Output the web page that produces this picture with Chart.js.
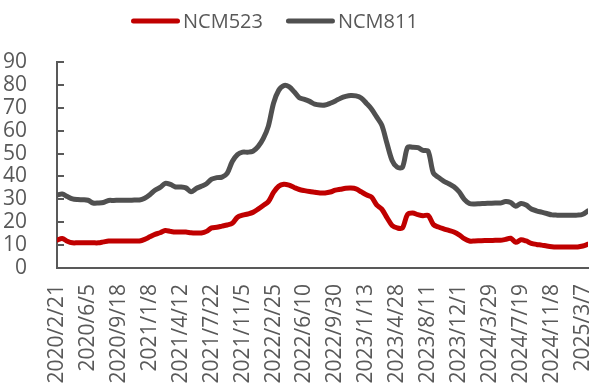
<!DOCTYPE html>
<html>
<head>
<meta charset="utf-8">
<style>
  html, body { margin: 0; padding: 0; background: #ffffff; }
  #wrap { width: 596px; height: 388px; }
</style>
<script src="https://cdn.jsdelivr.net/npm/chart.js@4"></script>
</head>
<body>
<div id="wrap"><canvas id="chart" width="596" height="388"></canvas></div>
<script>
// Date labels shown under the axis (one every sixth sample)
const tickLabels = [
  '2020/2/21', '2020/6/5', '2020/9/18', '2021/1/8', '2021/4/12', '2021/7/22',
  '2021/11/5', '2022/2/25', '2022/6/10', '2022/9/30', '2023/1/13', '2023/4/28',
  '2023/8/11', '2023/12/1', '2024/3/29', '2024/7/19', '2024/11/8', '2025/3/7'
];
const samplesPerLabel = 6;

const seriesNames = ['NCM523', 'NCM811'];

// NCM523 price series
const ncm523 = [
  12.2, 12.9, 11.7, 11.0, 11.0, 11.0, 11.0, 11.0, 11.0, 11.4,
  11.8, 11.8, 11.8, 11.8, 11.8, 11.8, 11.8, 12.5, 13.6, 14.7,
  15.4, 16.4, 16.0, 15.7, 15.7, 15.7, 15.4, 15.3, 15.3, 16.0,
  17.5, 17.8, 18.3, 18.8, 19.5, 22.2, 23.1, 23.6, 24.3, 25.7,
  27.3, 29.0, 33.0, 35.7, 36.6, 36.2, 35.2, 34.3, 33.8, 33.4,
  33.1, 32.8, 32.8, 33.2, 34.0, 34.4, 34.8, 34.9, 34.6, 33.3,
  32.0, 31.0, 27.6, 25.7, 22.0, 18.6, 17.5, 17.5, 23.4, 24.0,
  23.3, 22.8, 23.0, 19.0, 17.9, 17.1, 16.4, 15.7, 14.5, 12.8,
  11.8, 11.8, 11.9, 12.0, 12.0, 12.1, 12.1, 12.5, 13.0, 11.2,
  12.3, 11.8, 10.8, 10.3, 10.0, 9.6, 9.3, 9.2, 9.2, 9.2,
  9.2, 9.2, 9.6, 10.4
];

// NCM811 price series
const ncm811 = [
  31.9, 32.3, 31.2, 30.2, 29.9, 29.8, 29.6, 28.4, 28.4, 28.6,
  29.5, 29.5, 29.6, 29.6, 29.6, 29.7, 29.7, 30.5, 32.0, 34.0,
  35.2, 37.0, 36.5, 35.4, 35.4, 35.0, 33.3, 34.7, 35.7, 36.8,
  38.8, 39.5, 39.7, 41.3, 46.5, 49.5, 50.6, 50.6, 51.0, 53.0,
  56.5, 62.0, 72.0, 77.6, 79.7, 79.2, 77.0, 74.4, 73.7, 72.8,
  71.6, 71.2, 71.2, 72.0, 73.0, 74.2, 75.0, 75.4, 75.2, 74.3,
  72.0, 69.5, 66.0, 62.4, 54.5, 47.0, 44.0, 44.0, 52.7, 52.8,
  52.6, 51.4, 51.0, 41.5, 39.6, 38.0, 36.8, 35.5, 33.3, 30.0,
  28.2, 28.0, 28.1, 28.2, 28.3, 28.4, 28.4, 29.0, 28.6, 27.0,
  28.2, 27.5, 25.8, 25.0, 24.4, 23.8, 23.2, 23.1, 23.1, 23.1,
  23.1, 23.1, 23.5, 25.0
];

const yTicks = [0, 10, 20, 30, 40, 50, 60, 70, 80, 90];

const TEXT = '#595959';
const AXIS = '#595959';
const FONT = '"Open Sans", "Noto Sans", sans-serif';
const FONT_SIZE = 21;

const toPoints = arr => arr.map((v, i) => ({ x: i, y: v }));

// short tick marks pointing into the plot from the value axis
const innerTicks = {
  id: 'innerTicks',
  beforeDatasetsDraw(chart) {
    const { ctx, chartArea, scales } = chart;
    const y = scales.y;
    ctx.save();
    ctx.strokeStyle = AXIS;
    ctx.lineWidth = 2;
    y.ticks.forEach(t => {
      const py = Math.round(y.getPixelForValue(t.value));
      ctx.beginPath();
      ctx.moveTo(chartArea.left, py);
      ctx.lineTo(chartArea.left + 7, py);
      ctx.stroke();
    });
    ctx.restore();
  }
};

// legend: rounded line sample followed closely by the series name
const lineLegend = {
  id: 'lineLegend',
  afterDraw(chart) {
    const ctx = chart.ctx;
    ctx.save();
    ctx.font = '20px ' + FONT;
    ctx.textBaseline = 'middle';
    ctx.textAlign = 'left';
    let x = 131;
    const y = 21;
    chart.data.datasets.forEach(ds => {
      ctx.strokeStyle = ds.borderColor;
      ctx.lineWidth = 5;
      ctx.lineCap = 'round';
      ctx.beginPath();
      ctx.moveTo(x + 2.5, y);
      ctx.lineTo(x + 46.5, y);
      ctx.stroke();
      ctx.fillStyle = TEXT;
      ctx.fillText(ds.label, x + 52, y + 1);
      x += 52 + ctx.measureText(ds.label).width + 23;
    });
    ctx.restore();
  }
};

new Chart(document.getElementById('chart'), {
  type: 'line',
  data: {
    datasets: [
      {
        label: seriesNames[0],
        data: toPoints(ncm523),
        borderColor: '#C00000',
        backgroundColor: '#C00000',
        borderWidth: 5,
        pointRadius: 0,
        tension: 0.3,
        borderJoinStyle: 'round',
        borderCapStyle: 'round'
      },
      {
        label: seriesNames[1],
        data: toPoints(ncm811),
        borderColor: '#505050',
        backgroundColor: '#505050',
        borderWidth: 5,
        pointRadius: 0,
        tension: 0.3,
        borderJoinStyle: 'round',
        borderCapStyle: 'round'
      }
    ]
  },
  options: {
    responsive: false,
    animation: false,
    layout: { padding: { top: 62, right: 8, bottom: 0, left: 0 } },
    plugins: {
      legend: { display: false },
      tooltip: { enabled: false }
    },
    scales: {
      x: {
        type: 'linear',
        min: 0,
        max: ncm523.length - 1,
        grid: { display: false },
        border: { display: true, color: AXIS, width: 2 },
        afterBuildTicks: scale => {
          scale.ticks = tickLabels.map((_, i) => ({ value: i * samplesPerLabel }));
        },
        afterFit: scale => {
          scale.height = 120;
          scale.paddingLeft = 0;
          scale.paddingRight = 0;
        },
        ticks: {
          autoSkip: false,
          minRotation: 90,
          maxRotation: 90,
          padding: 8,
          color: TEXT,
          font: { family: FONT, size: FONT_SIZE },
          callback: v => tickLabels[Math.round(v / samplesPerLabel)] ?? ''
        }
      },
      y: {
        min: 0,
        max: 90,
        grid: { display: false },
        border: { display: true, color: AXIS, width: 2 },
        afterBuildTicks: scale => {
          scale.ticks = yTicks.map(v => ({ value: v }));
        },
        afterFit: scale => { scale.width = 57; },
        ticks: {
          autoSkip: false,
          padding: 22,
          color: TEXT,
          font: { family: FONT, size: FONT_SIZE }
        }
      }
    }
  },
  plugins: [innerTicks, lineLegend]
});
</script>
</body>
</html>
